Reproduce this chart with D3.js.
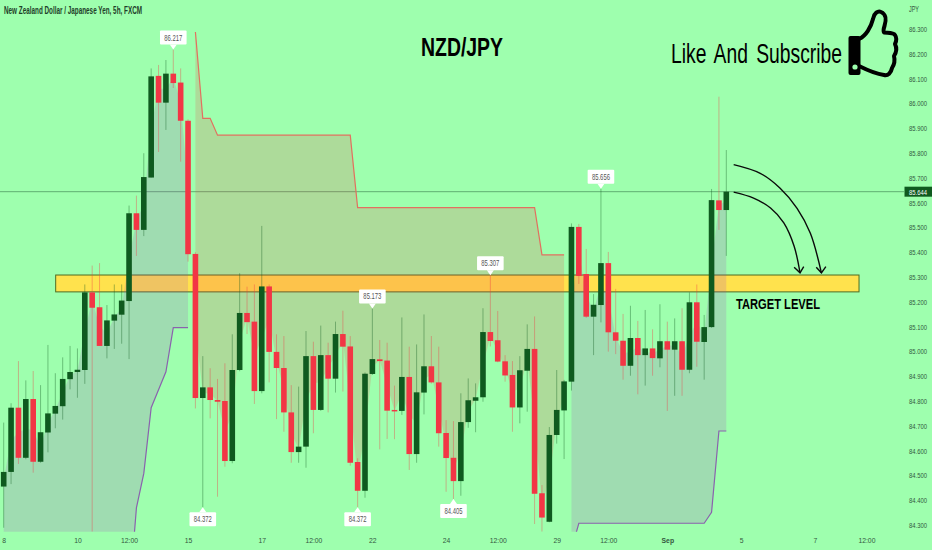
<!DOCTYPE html>
<html>

<head>
    <title>NZD/JPY</title>
    <script src="https://cdn.jsdelivr.net/npm/d3@7/dist/d3.min.js"></script>
    <style>
        body {
            margin: 0;
            background: #9effae;
        }

        text {
            font-family: "Liberation Sans Narrow", "Liberation Sans", sans-serif;
        }

        .tick text {
            fill: #33583f;
            font-size: 8px;
        }
    </style>
</head>

<body>
    <svg id="svg" width="932" height="550"></svg>
    <script>
        // candles, 5h bars, first bar = 1
        var opens = [84.455, 84.514, 84.773, 84.571, 84.808, 84.555, 84.673, 84.749, 84.779, 84.888,
            84.917, 84.925, 85.238, 85.178, 85.022, 85.124, 85.148, 85.203, 85.557, 85.490,
            85.701, 86.111, 86.003, 86.120, 86.084, 85.930, 85.393, 84.812, 84.855, 84.804,
            84.800, 84.558, 84.925, 85.155, 85.120, 84.840, 85.262, 84.998, 84.933, 84.754,
            84.594, 84.616, 84.981, 84.764, 84.985, 84.890, 85.070, 85.020, 84.554, 84.438,
            84.909, 84.968, 84.963, 84.764, 84.760, 84.897, 84.586, 84.834, 84.940, 84.875,
            84.671, 84.571, 84.477, 84.715, 84.801, 84.815, 85.078, 85.045, 84.960, 84.905,
            84.774, 84.922, 85.010, 84.428, 84.313, 84.663, 84.762, 84.878, 85.502, 85.312,
            85.140, 85.187, 85.356, 85.077, 85.043, 84.942, 85.054, 84.985, 85.012, 84.972,
            85.041, 85.007, 85.041, 84.926, 85.198, 85.038, 85.098, 85.609, 85.570];
        var highs = [84.713, 84.791, 84.961, 84.883, 84.921, 84.864, 85.026, 84.912, 84.976, 85.022,
            85.012, 85.270, 85.346, 85.356, 85.187, 85.270, 85.270, 85.588, 85.628, 85.799,
            86.141, 86.155, 86.175, 86.217, 86.141, 85.936, 85.400, 84.981, 84.932, 84.889,
            84.952, 85.069, 85.315, 85.261, 85.270, 85.506, 85.270, 85.069, 85.062, 84.864,
            84.858, 85.082, 85.039, 85.104, 85.035, 85.120, 85.164, 85.062, 84.569, 84.915,
            85.173, 85.046, 85.035, 84.862, 85.137, 85.019, 85.028, 85.149, 85.062, 85.019,
            84.723, 84.719, 84.831, 84.891, 84.871, 85.174, 85.307, 85.163, 84.985, 84.961,
            84.981, 85.109, 85.141, 84.461, 84.695, 84.925, 84.885, 85.516, 85.514, 85.413,
            85.231, 85.656, 85.401, 85.252, 85.151, 85.184, 85.123, 85.167, 85.089, 85.190,
            85.120, 85.133, 85.174, 85.238, 85.270, 85.147, 85.655, 86.027, 85.812];
        var lows = [84.289, 84.465, 84.546, 84.565, 84.511, 84.551, 84.593, 84.690, 84.725, 84.847,
            84.813, 84.869, 84.273, 85.022, 84.972, 85.010, 85.031, 84.969, 85.385, 85.465,
            85.701, 85.804, 85.893, 86.062, 85.765, 85.362, 84.770, 84.372, 84.730, 84.414,
            84.535, 84.549, 84.920, 85.070, 84.788, 84.831, 84.875, 84.727, 84.676, 84.551,
            84.551, 84.531, 84.670, 84.760, 84.754, 84.834, 84.838, 84.539, 84.372, 84.410,
            84.905, 84.605, 84.647, 84.646, 84.744, 84.522, 84.551, 84.746, 84.870, 84.616,
            84.434, 84.405, 84.418, 84.692, 84.674, 84.797, 85.020, 84.956, 84.878, 84.676,
            84.710, 84.757, 84.304, 84.273, 84.311, 84.628, 84.566, 84.842, 85.272, 85.135,
            84.985, 85.117, 84.999, 84.989, 84.886, 84.902, 84.827, 84.862, 84.902, 84.936,
            84.760, 84.821, 84.821, 84.912, 84.938, 84.886, 85.095, 85.490, 85.385];
        var closes = [84.514, 84.773, 84.571, 84.808, 84.555, 84.674, 84.750, 84.780, 84.889, 84.917,
            84.926, 85.238, 85.176, 85.022, 85.125, 85.149, 85.205, 85.557, 85.490, 85.703,
            86.109, 86.003, 86.120, 86.082, 85.930, 85.392, 84.812, 84.855, 84.804, 84.797,
            84.558, 84.925, 85.155, 85.118, 84.840, 85.262, 84.998, 84.933, 84.754, 84.594,
            84.616, 84.981, 84.764, 84.985, 84.890, 85.070, 85.019, 84.551, 84.438, 84.910,
            84.969, 84.961, 84.761, 84.758, 84.897, 84.586, 84.835, 84.940, 84.875, 84.670,
            84.570, 84.477, 84.715, 84.803, 84.815, 85.078, 85.042, 84.959, 84.903, 84.774,
            84.924, 85.010, 84.426, 84.330, 84.663, 84.764, 84.879, 85.502, 85.304, 85.140,
            85.188, 85.356, 85.077, 85.043, 84.942, 85.054, 84.985, 85.012, 84.973, 85.041,
            85.007, 85.041, 84.926, 85.198, 85.039, 85.098, 85.610, 85.570, 85.644];

        // trailing stop above / below price, null = not active
        var upperBand = [null, null, null, null, null, null, null, null, null, null,
            null, null, null, null, null, null, null, null, null, null,
            null, null, null, null, null, null, 86.288, 85.94, 85.94, 85.872,
            85.872, 85.872, 85.872, 85.872, 85.872, 85.872, 85.872, 85.872, 85.872, 85.872,
            85.872, 85.872, 85.872, 85.872, 85.872, 85.872, 85.872, 85.872, 85.58, 85.58,
            85.58, 85.58, 85.58, 85.58, 85.58, 85.58, 85.58, 85.58, 85.58, 85.58,
            85.58, 85.58, 85.58, 85.58, 85.58, 85.58, 85.58, 85.58, 85.58, 85.58,
            85.58, 85.58, 85.58, 85.389, 85.389, 85.389, 85.389, null, null, null,
            null, null, null, null, null, null, null, null, null, null,
            null, null, null, null, null, null, null, null, null];
        var lowerBand = [84.0, 84.0, 84.0, 84.0, 84.0, 84.0, 84.0, 84.0, 84.0, 84.0,
            84.0, 84.0, 84.0, 84.0, 84.0, 84.0, 84.0, 84.0, 84.369, 84.508,
            84.773, 84.845, 84.918, 85.096, 85.096, 85.096, null, null, null, null,
            null, null, null, null, null, null, null, null, null, null,
            null, null, null, null, null, null, null, null, null, null,
            null, null, null, null, null, null, null, null, null, null,
            null, null, null, null, null, null, null, null, null, null,
            null, null, null, null, null, null, null, 84.2, 84.307, 84.307,
            84.307, 84.307, 84.307, 84.307, 84.307, 84.307, 84.307, 84.307, 84.307, 84.307,
            84.307, 84.307, 84.307, 84.307, 84.307, 84.307, 84.351, 84.679, 84.679];

        var priceTicks = [86.3, 86.2, 86.1, 86.0, 85.9, 85.8, 85.7, 85.6, 85.5, 85.4, 85.3, 85.2, 85.1, 85.0, 84.9, 84.8, 84.7, 84.6, 84.5, 84.4, 84.3];
        var timeTickBars = [1, 11, 18, 26, 36, 43, 51, 61, 68, 76, 83, 91, 101, 111, 118];
        var timeTickLabels = ["8", "10", "12:00", "15", "17", "12:00", "22", "24", "12:00", "29", "12:00", "Sep", "5", "7", "12:00"];

        var lastPrice = 85.644;
        var highLabels = [{ bar: 24, price: 86.217 }, { bar: 51, price: 85.173 }, { bar: 67, price: 85.307 }, { bar: 82, price: 85.656 }];
        var lowLabels = [{ bar: 28, price: 84.372 }, { bar: 49, price: 84.372 }, { bar: 62, price: 84.405 }];

        var targetZone = { from: 8.05, to: 117, top: 85.308, bottom: 85.24 };
        var arrowA = [[100, 85.642], [102.7, 85.618], [105, 85.578], [106.8, 85.518], [108.2, 85.424], [109, 85.317]];
        var arrowAHead = [[108.2, 85.339], [109, 85.317], [109.5, 85.342]];
        var arrowB = [[100, 85.753], [103.6, 85.718], [106.3, 85.658], [108.6, 85.577], [110.4, 85.476], [111.9, 85.317]];
        var arrowBHead = [[111.2, 85.339], [111.9, 85.317], [112.5, 85.342]];

        var green = "#0f5a1f", red = "#f23645";

        var svg = d3.select("#svg");
        var x = d3.scaleLinear().domain([1, 99]).range([3.7, 726.3]);
        var y = d3.scaleLinear().domain([84.3, 86.3]).range([525, 29]);

        var bars = d3.range(opens.length).map(function (i) {
            return { bar: i + 1, open: opens[i], high: highs[i], low: lows[i], close: closes[i], up: upperBand[i], down: lowerBand[i] };
        });

        svg.append("defs").append("clipPath").attr("id", "plot")
            .append("rect").attr("x", 0).attr("y", 0).attr("width", 904).attr("height", 531.7);

        var plot = svg.append("g").attr("clip-path", "url(#plot)");

        // last price line
        plot.append("line")
            .attr("x1", 0).attr("x2", 904)
            .attr("y1", y(lastPrice)).attr("y2", y(lastPrice))
            .style("stroke", "#5fae72").style("stroke-width", 1);

        // target zone
        plot.append("rect")
            .attr("x", x(targetZone.from))
            .attr("y", y(targetZone.top))
            .attr("width", x(targetZone.to) - x(targetZone.from))
            .attr("height", y(targetZone.bottom) - y(targetZone.top))
            .style("fill", "#ffe24d")
            .style("stroke", "#4f6b22")
            .style("stroke-width", 1);

        function mid(d) { return (d.open + d.close) / 2; }

        var upperArea = d3.area()
            .defined(function (d) { return d.up !== null; })
            .x(function (d) { return x(d.bar); })
            .y0(function (d) { return y(d.up); })
            .y1(function (d) { return y(mid(d)); });
        var lowerArea = d3.area()
            .defined(function (d) { return d.down !== null; })
            .x(function (d) { return x(d.bar); })
            .y0(function (d) { return y(d.down); })
            .y1(function (d) { return y(mid(d)); });

        plot.append("path").attr("d", upperArea(bars)).style("fill", "#f23645").style("fill-opacity", .18);
        plot.append("path").attr("d", lowerArea(bars)).style("fill", "#a83cc0").style("fill-opacity", .18);

        var upperLine = d3.line().defined(function (d) { return d.up !== null; })
            .x(function (d) { return x(d.bar); }).y(function (d) { return y(d.up); });
        var lowerLine = d3.line().defined(function (d) { return d.down !== null; })
            .x(function (d) { return x(d.bar); }).y(function (d) { return y(d.down); });

        plot.append("path").attr("d", upperLine(bars)).style("fill", "none").style("stroke", "#e2705f").style("stroke-width", 1.2);
        plot.append("path").attr("d", lowerLine(bars)).style("fill", "none").style("stroke", "#8a62ad").style("stroke-width", 1.2);

        // candles
        plot.selectAll(".wick")
            .data(bars)
            .enter().append("line")
            .attr("class", "wick")
            .attr("x1", function (d) { return x(d.bar); })
            .attr("x2", function (d) { return x(d.bar); })
            .attr("y1", function (d) { return y(d.high); })
            .attr("y2", function (d) { return y(d.low); })
            .style("stroke", function (d) { return d.close >= d.open ? green : red; })
            .style("stroke-opacity", .38)
            .style("stroke-width", 1);

        var bodyWidth = 5.6;
        plot.selectAll(".body")
            .data(bars)
            .enter().append("rect")
            .attr("class", "body")
            .attr("x", function (d) { return x(d.bar) - bodyWidth / 2; })
            .attr("width", bodyWidth)
            .attr("y", function (d) { return y(Math.max(d.open, d.close)); })
            .attr("height", function (d) { return Math.max(1.2, Math.abs(y(d.open) - y(d.close))); })
            .style("fill", function (d) { return d.close >= d.open ? green : red; });

        // high / low callouts
        var calloutW = 26.6, calloutH = 14, gap = 5;
        function callout(d, above) {
            var cx = x(d.bar), py = y(d.price);
            var edge = above ? py - gap : py + gap;
            var far = above ? edge - calloutH : edge + calloutH;
            var g = svg.append("g");
            g.append("path")
                .attr("d", "M" + (cx - 3.5) + "," + edge + "L" + cx + "," + py + "L" + (cx + 3.5) + "," + edge + "Z")
                .style("fill", "#fff");
            g.append("rect")
                .attr("x", cx - calloutW / 2)
                .attr("y", Math.min(edge, far))
                .attr("width", calloutW)
                .attr("height", calloutH)
                .attr("rx", 1)
                .style("fill", "#fff");
            g.append("text")
                .attr("x", cx)
                .attr("y", (edge + far) / 2 + 3)
                .attr("text-anchor", "middle")
                .attr("textLength", 18)
                .attr("lengthAdjust", "spacingAndGlyphs")
                .style("font-size", "9px")
                .style("fill", "#555")
                .text(d.price.toFixed(3));
        }
        highLabels.forEach(function (d) { callout(d, true); });
        lowLabels.forEach(function (d) { callout(d, false); });

        // axes
        var yAxis = d3.axisRight(y).tickValues(priceTicks).tickSize(0).tickPadding(0).tickFormat(d3.format(".3f"));
        var xAxis = d3.axisBottom(x).tickValues(timeTickBars).tickSize(0).tickPadding(0)
            .tickFormat(function (d, i) { return timeTickLabels[i]; });

        var gy = svg.append("g").attr("transform", "translate(909,0)").call(yAxis);
        gy.select(".domain").remove();
        gy.selectAll(".tick text").attr("textLength", 18).attr("lengthAdjust", "spacingAndGlyphs");

        var gx = svg.append("g").attr("transform", "translate(0,537)").call(xAxis);
        gx.select(".domain").remove();
        gx.selectAll(".tick text")
            .style("font-weight", function (d, i) { return timeTickLabels[i] === "Sep" ? "bold" : null; })
            .attr("lengthAdjust", "spacingAndGlyphs")
            .attr("textLength", function () { return this.getComputedTextLength() * .85; });

        svg.append("text").attr("x", 909).attr("y", 12)
            .attr("textLength", 10).attr("lengthAdjust", "spacingAndGlyphs")
            .style("font-size", "9px").style("fill", "#33583f").text("JPY");

        // last price tag
        svg.append("rect").attr("x", 904.5).attr("y", y(lastPrice) - 5).attr("width", 27.5).attr("height", 10).style("fill", green);
        svg.append("text").attr("x", 909).attr("y", y(lastPrice) + 3)
            .attr("textLength", 18).attr("lengthAdjust", "spacingAndGlyphs")
            .style("font-size", "8px").style("fill", "#fff").text(lastPrice.toFixed(3));

        // titles
        svg.append("text").attr("x", 4).attr("y", 14)
            .attr("textLength", 138).attr("lengthAdjust", "spacingAndGlyphs")
            .style("font-size", "10px").style("font-weight", "bold").style("fill", "#1e4029")
            .text("New Zealand Dollar / Japanese Yen, 5h, FXCM");
        svg.append("text").attr("x", 421).attr("y", 56)
            .attr("textLength", 82).attr("lengthAdjust", "spacingAndGlyphs")
            .style("font-size", "26px").style("font-weight", "bold").style("fill", "#000")
            .text("NZD/JPY");
        svg.append("text").attr("x", 671).attr("y", 62.5)
            .attr("textLength", 171).attr("lengthAdjust", "spacingAndGlyphs")
            .style("font-size", "27px").style("word-spacing", "4px").style("fill", "#000")
            .text("Like And Subscribe");
        svg.append("text").attr("x", 736).attr("y", 309)
            .attr("textLength", 84).attr("lengthAdjust", "spacingAndGlyphs")
            .style("font-size", "15px").style("font-weight", "bold").style("fill", "#000")
            .text("TARGET LEVEL");

        // arrows
        var arrowCurve = d3.line().x(function (d) { return x(d[0]); }).y(function (d) { return y(d[1]); }).curve(d3.curveCatmullRom);
        var arrowBarb = d3.line().x(function (d) { return x(d[0]); }).y(function (d) { return y(d[1]); });
        [arrowA, arrowB].forEach(function (a) {
            svg.append("path").attr("d", arrowCurve(a)).style("fill", "none").style("stroke", "#0a0a0a").style("stroke-width", 1.4);
        });
        [arrowAHead, arrowBHead].forEach(function (a) {
            svg.append("path").attr("d", arrowBarb(a)).style("fill", "none").style("stroke", "#0a0a0a").style("stroke-width", 1.4);
        });

        // thumbs up
        var thumb = svg.append("g");
        thumb.append("rect").attr("x", 848.5).attr("y", 36).attr("width", 12).attr("height", 39).attr("rx", 2).style("fill", "#000");
        thumb.append("circle").attr("cx", 855).attr("cy", 67).attr("r", 2.6).style("fill", "#9effae");
        thumb.append("path")
            .attr("d", "M859,39 C866,36 871,27 873,19 C874,13 878,10.5 881,12 C886,14 886.5,20 884.5,26 C883.5,29 883,31 884,32.5 C888,33 893,32 895,35 C897,38 896,42 895,44 C897,48 896,53 894,56 C895,60 894,65 892,68 C891,73 888,76 884,75 C877,74 869,71 859,66")
            .style("fill", "none").style("stroke", "#000").style("stroke-width", 4).style("stroke-linejoin", "round");
    </script>
</body>

</html>
